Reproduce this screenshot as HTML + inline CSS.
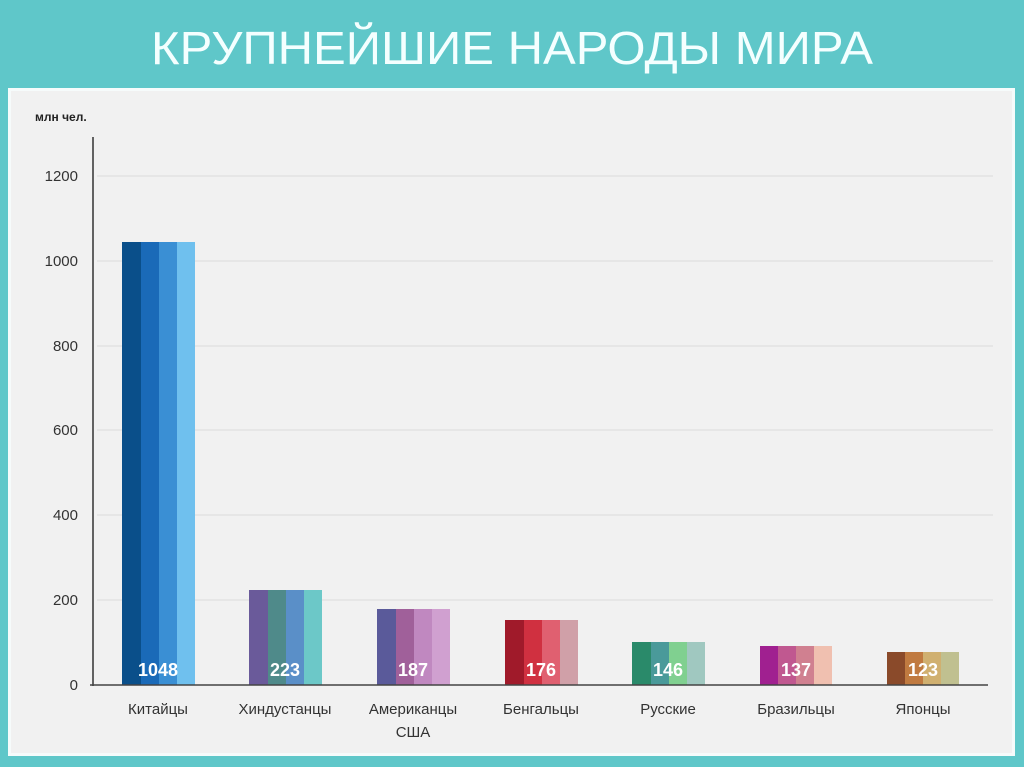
<!DOCTYPE html>
<html><head><meta charset="utf-8"><style>
body{margin:0;width:1024px;height:767px;background:#5ec8c8;overflow:hidden;font-family:"Liberation Sans",sans-serif;}
</style></head><body>
<svg width="1024" height="767" xmlns="http://www.w3.org/2000/svg" style="position:absolute;left:0;top:0">
<rect x="0" y="0" width="1024" height="767" fill="#5fc7c9"/>
<rect x="8" y="88" width="1007" height="668" fill="#f6fbfb"/>
<rect x="11" y="91" width="1001" height="662" fill="#f1f1f1"/>
<text x="512" y="64" text-anchor="middle" font-size="46" fill="#f4ffff" font-family="Liberation Sans Narrow, Liberation Sans, sans-serif" textLength="722" lengthAdjust="spacingAndGlyphs">КРУПНЕЙШИЕ  НАРОДЫ  МИРА</text>
<text x="35" y="121" font-size="12" font-weight="bold" fill="#222">млн чел.</text>
<g stroke="#e2e2e2" stroke-width="1.5">
<line x1="97" y1="176" x2="993" y2="176"/><line x1="97" y1="261" x2="993" y2="261"/>
<line x1="97" y1="346" x2="993" y2="346"/><line x1="97" y1="430" x2="993" y2="430"/>
<line x1="97" y1="515" x2="993" y2="515"/><line x1="97" y1="600" x2="993" y2="600"/>
</g>
<g font-size="15" fill="#333" text-anchor="end">
<text x="78" y="181">1200</text><text x="78" y="266">1000</text><text x="78" y="351">800</text>
<text x="78" y="435">600</text><text x="78" y="520">400</text><text x="78" y="605">200</text><text x="78" y="690">0</text>
</g>
<line x1="93" y1="137" x2="93" y2="686" stroke="#333" stroke-width="1.5"/>
<g id="bars">
<g><rect x="122" y="242" width="19" height="443" fill="#0a4f8a"/><rect x="141" y="242" width="18" height="443" fill="#1a6ab8"/><rect x="159" y="242" width="18" height="443" fill="#3a8fd4"/><rect x="177" y="242" width="18" height="443" fill="#6fc0ee"/></g>
<g><rect x="249" y="590" width="19" height="95" fill="#6a5a9a"/><rect x="268" y="590" width="18" height="95" fill="#4f8a8a"/><rect x="286" y="590" width="18" height="95" fill="#5a8fc8"/><rect x="304" y="590" width="18" height="95" fill="#6cc8c8"/></g>
<g><rect x="377" y="609" width="19" height="76" fill="#5a5a9a"/><rect x="396" y="609" width="18" height="76" fill="#a0609a"/><rect x="414" y="609" width="18" height="76" fill="#c088c0"/><rect x="432" y="609" width="18" height="76" fill="#d0a0d0"/></g>
<g><rect x="505" y="620" width="19" height="65" fill="#a01a2a"/><rect x="524" y="620" width="18" height="65" fill="#d03040"/><rect x="542" y="620" width="18" height="65" fill="#e06070"/><rect x="560" y="620" width="18" height="65" fill="#d0a0a8"/></g>
<g><rect x="632" y="642" width="19" height="43" fill="#2a8a6a"/><rect x="651" y="642" width="18" height="43" fill="#4a9a9a"/><rect x="669" y="642" width="18" height="43" fill="#80d090"/><rect x="687" y="642" width="18" height="43" fill="#a0c8c0"/></g>
<g><rect x="760" y="646" width="18" height="39" fill="#a02090"/><rect x="778" y="646" width="18" height="39" fill="#c05890"/><rect x="796" y="646" width="18" height="39" fill="#d08090"/><rect x="814" y="646" width="18" height="39" fill="#f0c0b0"/></g>
<g><rect x="887" y="652" width="18" height="33" fill="#8a4a2a"/><rect x="905" y="652" width="18" height="33" fill="#c07a40"/><rect x="923" y="652" width="18" height="33" fill="#d0b070"/><rect x="941" y="652" width="18" height="33" fill="#c0c090"/></g>
</g>
<g font-size="18" font-weight="bold" fill="#fff" text-anchor="middle">
<text x="158" y="676">1048</text><text x="285" y="676">223</text><text x="413" y="676">187</text>
<text x="541" y="676">176</text><text x="668" y="676">146</text><text x="796" y="676">137</text><text x="923" y="676">123</text>
</g>
<line x1="90" y1="685" x2="988" y2="685" stroke="#444" stroke-width="1.5"/>
<g font-size="15" fill="#333" text-anchor="middle">
<text x="158" y="714">Китайцы</text><text x="285" y="714">Хиндустанцы</text><text x="413" y="714">Американцы</text>
<text x="413" y="737">США</text><text x="541" y="714">Бенгальцы</text><text x="668" y="714">Русские</text>
<text x="796" y="714">Бразильцы</text><text x="923" y="714">Японцы</text>
</g>
</svg>
</body></html>
